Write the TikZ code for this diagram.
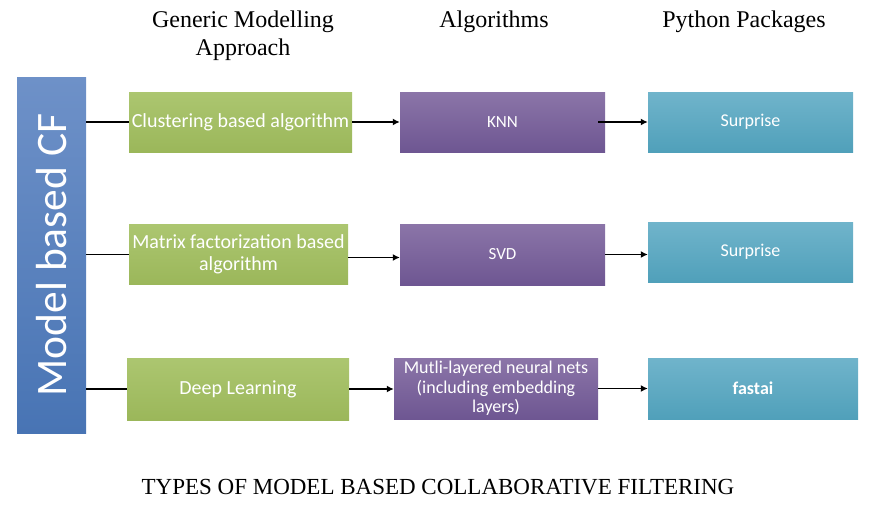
\documentclass[tikz,border=0pt]{standalone}
\usepackage{fontspec}
\setmainfont{Liberation Serif}
\newfontfamily\boxfont{Carlito}
\usetikzlibrary{arrows.meta, positioning}

\definecolor{greenTop}{RGB}{172,198,112}
\definecolor{greenBot}{RGB}{155,183,90}
\definecolor{purpleTop}{RGB}{139,117,168}
\definecolor{purpleBot}{RGB}{110,86,146}
\definecolor{tealTop}{RGB}{112,180,203}
\definecolor{tealBot}{RGB}{80,160,186}
\definecolor{blueTop}{RGB}{110,145,200}
\definecolor{blueBot}{RGB}{72,116,180}

\begin{document}
\begin{tikzpicture}[
    x=1pt, y=-1pt,
    box/.style={rectangle, inner sep=1pt, align=center, text=white, font=\boxfont\fontsize{20}{22}\selectfont},
    approach/.style={box, top color=greenTop, bottom color=greenBot, minimum height=60pt},
    algo/.style={box, top color=purpleTop, bottom color=purpleBot, minimum width=205pt, minimum height=60pt, font=\boxfont\fontsize{17}{19}\selectfont},
    package/.style={box, top color=tealTop, bottom color=tealBot, minimum height=60pt, font=\boxfont\fontsize{18}{20}\selectfont},
    heading/.style={font=\fontsize{24}{28}\selectfont, align=center},
    arrow/.style={-{Latex[length=7pt,width=7pt]}, line width=1.4pt},
    link/.style={line width=1.4pt}
]
\useasboundingbox (0,0) rectangle (877,509);

% Headings
\node[heading] (h1) at (243,36) {Generic Modelling\\Approach};
\node[heading] (h2) at (494,22) {Algorithms};
\node[heading] (h3) at (744,22) {Python Packages};

% Left bar
\node[box, top color=blueTop, bottom color=blueBot, minimum width=69pt, minimum height=356pt, font=\boxfont\fontsize{43.5}{46}\selectfont] (cf) at (51.5,255) {\rotatebox{90}{Model based CF}};

% Approaches
\node[approach, minimum width=223pt] (clust) at (240.5,122) {Clustering based algorithm};
\node[approach, minimum width=219pt] (matrix) at (238.5,254.5) {Matrix factorization based\\algorithm};
\node[approach, minimum width=222pt, minimum height=62pt] (deep) at (238,389) {Deep Learning};

% Algorithms
\node[algo] (knn) at (502.5,122) {KNN};
\node[algo, minimum height=61pt] (svd) at (502.5,254.5) {SVD};
\node[algo, minimum width=204pt, minimum height=61pt, font=\boxfont\fontsize{18}{19.5}\selectfont] (mlnn) at (496,388.5) {Mutli-layered neural nets\\(including embedding\\layers)};

% Packages
\node[package, minimum width=205pt] (surp1) at (750.5,122) {Surprise};
\node[package, minimum width=205pt] (surp2) at (750.5,252) {Surprise};
\node[package, minimum width=210pt, minimum height=61pt, font=\boxfont\bfseries\fontsize{18}{20}\selectfont] (fastai) at (753,388.5) {fastai};

% Connectors
\coordinate (mx) at ([yshift=-3pt]matrix.east);
\coordinate (kx) at ([xshift=-7pt]knn.east);
\draw[link] (cf.east |- clust) -- (clust.west);
\draw[link] (cf.east |- matrix) -- (matrix.west);
\draw[link] (cf.east |- deep) -- (deep.west);
\draw[arrow] (clust.east) -- (knn.west |- clust.east);
\draw[arrow] (mx) -- (svd.west |- mx);
\draw[arrow] (deep.east) -- (mlnn.west |- deep.east);
\draw[arrow] (kx) -- (surp1.west);
\draw[arrow] (svd.east) -- (surp2.west |- svd.east);
\draw[arrow] (mlnn.east) -- (fastai.west |- mlnn.east);

% Caption
\node[font=\fontsize{23}{26}\selectfont] (caption) at (438,487) {TYPES OF MODEL BASED COLLABORATIVE FILTERING};

\end{tikzpicture}
\end{document}
